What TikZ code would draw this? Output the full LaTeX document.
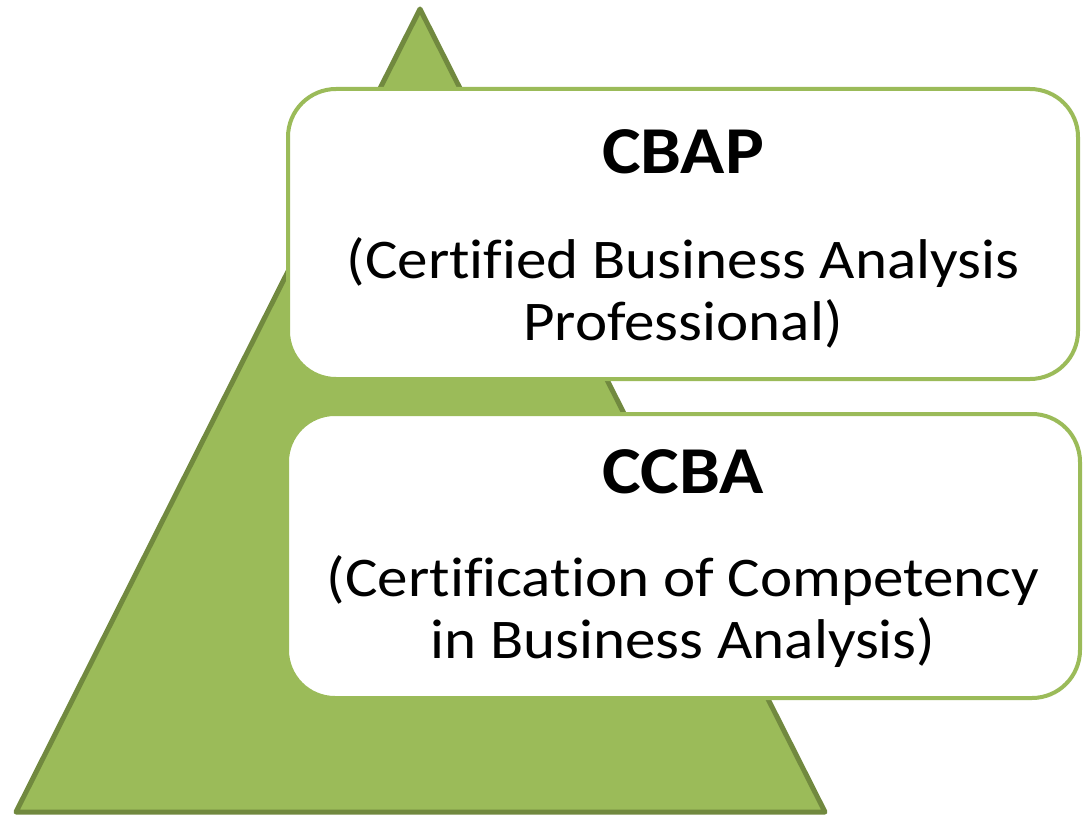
\documentclass[tikz,border=0pt]{standalone}
\usepackage{fontspec}
\setmainfont{Carlito}[FakeStretch=1.09,Ligatures=NoCommon]
\usepackage{tikz}
\definecolor{leaf}{HTML}{9BBB59}
\definecolor{leafdark}{HTML}{71893F}

\begin{document}
\begin{tikzpicture}[x=1pt,y=-1pt,
	level box/.style = {draw=leaf,line width=4pt,fill=white,rounded corners=48pt},
	title/.style = {anchor=base,font=\fontsize{67}{70}\selectfont\bfseries},
	subtitle/.style = {anchor=base,align=center,font=\fontsize{56}{62}\selectfont}
	]
	\useasboundingbox (0,0) rectangle (1088,816);
	%PIRAMIDE
	\coordinate (top) at (420,9);
	\coordinate (left) at (16,812);
	\coordinate (right) at (825,812);
	\draw[leafdark,fill=leaf,line width=5pt,line join=round] (top) -- (left) -- (right) -- cycle;
	%LIVELLI
	\draw[level box] (288,89) rectangle (1078,379);
	\draw[level box] (287,414) rectangle (1080,698);
	%CBAP
	\node[title] (cbap) at (683,173) {CBAP};
	\node[subtitle] (cbap text) at (683,340) {(Certified Business Analysis\\Professional)};
	%CCBA
	\node[title] (ccba) at (683,493) {CCBA};
	\node[subtitle] (ccba text) at (683,658) {(Certification of Competency\\in Business Analysis)};
\end{tikzpicture}
\end{document}
